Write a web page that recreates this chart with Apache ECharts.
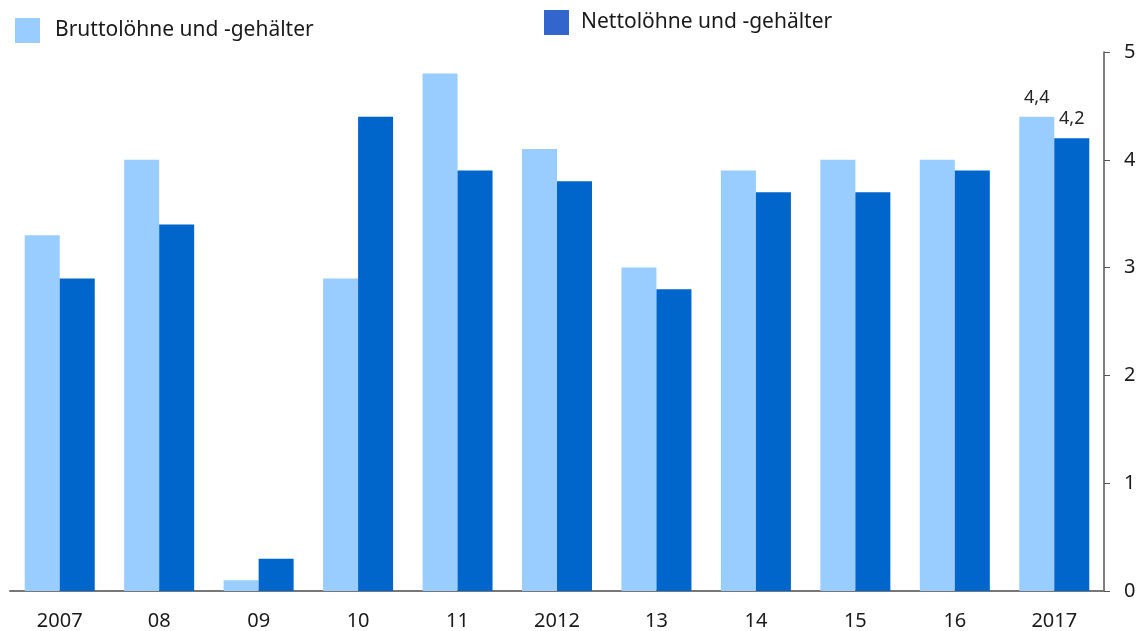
<!DOCTYPE html>
<html><head><meta charset="utf-8">
<script src="https://cdn.jsdelivr.net/npm/echarts@6/dist/echarts.min.js"></script>
<style>html,body{margin:0;padding:0;background:#fff}#c{width:1144px;height:631px}</style>
</head><body><div id="c"></div>
<script>
const categories = ['2007','08','09','10','11','2012','13','14','15','16','2017'];
const brutto = [3.3, 4.0, 0.1, 2.9, 4.8, 4.1, 3.0, 3.9, 4.0, 4.0, 4.4];
const netto = [2.9, 3.4, 0.3, 4.4, 3.9, 3.8, 2.8, 3.7, 3.7, 3.9, 4.2];
const yTicks = [0, 1, 2, 3, 4, 5];
const seriesNames = ['Bruttolöhne und -gehälter', 'Nettolöhne und -gehälter'];

const font = '"Noto Sans", "Open Sans", sans-serif';
const lastIdx = categories.length - 1;
function withLabel(arr) {
  return arr.map((v, i) => i === lastIdx ? {
    value: v,
    label: { show: true, position: 'top', distance: 10, color: '#222', fontSize: 18, fontFamily: font,
      formatter: p => String(p.value).replace('.', ',') }
  } : v);
}
const chart = echarts.init(document.getElementById('c'));
chart.setOption({
  animation: false,
  grid: { left: 10, right: 40, top: 52, bottom: 40 },
  legend: [
    { left: 15, top: 18, itemWidth: 25, itemHeight: 25, icon: 'rect',
      data: [{ name: seriesNames[0], itemStyle: { color: '#99ccff' } }],
      textStyle: { fontSize: 21, color: '#1a1a1a', fontFamily: font, padding: [6, 0, 0, 10] }, padding: 0 },
    { left: 544, top: 10, itemWidth: 25, itemHeight: 25, icon: 'rect',
      data: [{ name: seriesNames[1], itemStyle: { color: '#3366cc' } }],
      textStyle: { fontSize: 21, color: '#1a1a1a', fontFamily: font, padding: [6, 0, 0, 7] }, padding: 0 }
  ],
  xAxis: {
    type: 'category', data: categories,
    axisLine: { lineStyle: { color: '#777', width: 2 } },
    axisTick: { show: false },
    axisLabel: { color: '#1a1a1a', fontSize: 20, fontFamily: font, margin: 20 }
  },
  yAxis: {
    type: 'value', position: 'right', min: 0, max: 5, interval: 1,
    axisLine: { show: true, lineStyle: { color: '#555', width: 1.5 } },
    axisTick: { show: true, length: 6, lineStyle: { color: '#555' } },
    splitLine: { show: false },
    axisLabel: { color: '#1a1a1a', fontSize: 20, fontFamily: font, margin: 20,
      formatter: v => yTicks.includes(v) ? String(v) : '' }
  },
  series: [
    { name: seriesNames[0], type: 'bar', data: withLabel(brutto), barWidth: 35, barGap: '0%',
      itemStyle: { color: '#99ccff' } },
    { name: seriesNames[1], type: 'bar', data: withLabel(netto), barWidth: 35,
      itemStyle: { color: '#0066cc' } }
  ]
});
</script></body></html>
